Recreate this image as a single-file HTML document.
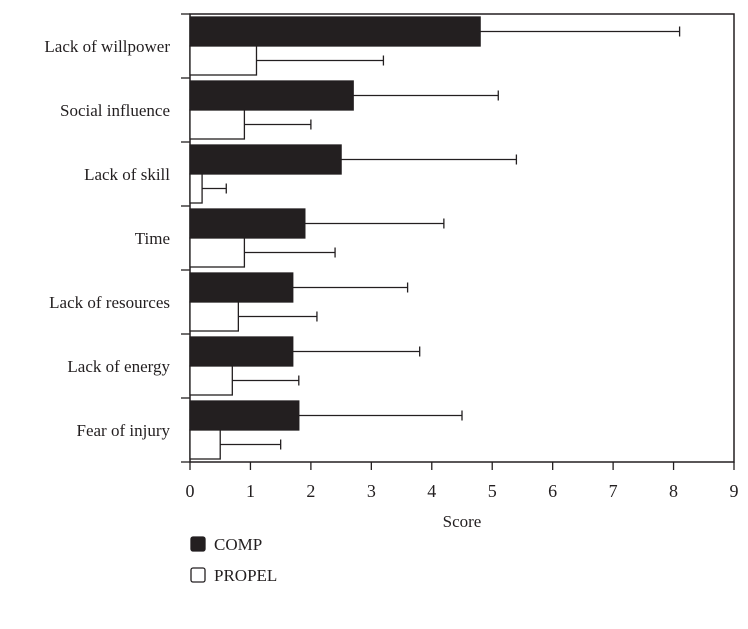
<!DOCTYPE html>
<html><head><meta charset="utf-8"><style>
body{margin:0;background:#fff;}
svg text{font-family:"Liberation Serif",serif;fill:#231f20;}
</style></head><body>
<svg width="748" height="624" id="chart">
</svg>
<script>
const categories=["Lack of willpower","Social influence","Lack of skill","Time","Lack of resources","Lack of energy","Fear of injury"];
const compValues=[4.8,2.7,2.5,1.9,1.7,1.7,1.8];
const compErrors=[8.1,5.1,5.4,4.2,3.6,3.8,4.5];
const propelValues=[1.1,0.9,0.2,0.9,0.8,0.7,0.5];
const propelErrors=[3.2,2.0,0.6,2.4,2.1,1.8,1.5];
const xTicks=[0,1,2,3,4,5,6,7,8,9];
const svg=document.getElementById('chart');
const NS='http://www.w3.org/2000/svg';
const L=190,R=734,T=14,B=462,XMAX=9;
const band=(B-T)/categories.length;
const x=v=>L+v/XMAX*(R-L);
function el(t,a,p){const e=document.createElementNS(NS,t);for(const k in a)e.setAttribute(k,a[k]);(p||svg).appendChild(e);return e;}
const frame=el('rect',{x:L,y:T,width:R-L,height:B-T,fill:'none',stroke:'#231f20','stroke-width':1.5});


for(let i=0;i<=categories.length;i++){const t=el('line',{x1:L-9,x2:L,y1:T+i*band,y2:T+i*band,stroke:'#231f20','stroke-width':1.3});

}
xTicks.forEach(v=>{const t=el('line',{x1:x(v),x2:x(v),y1:B,y2:B+8,stroke:'#231f20','stroke-width':1.3});


const lb=el('text',{x:x(v),y:B+35,'text-anchor':'middle','font-size':18});lb.textContent=v;

});
function bar(v,e,y0,h,fill,name){
const r=el('rect',{x:L,y:y0,width:x(v)-L,height:h,fill:fill,stroke:'#231f20','stroke-width':1.3});


const cy=y0+h/2;
const ln=el('line',{x1:x(v),x2:x(e),y1:cy,y2:cy,stroke:'#231f20','stroke-width':1.3});


const cap=el('line',{x1:x(e),x2:x(e),y1:cy-5,y2:cy+5,stroke:'#231f20','stroke-width':1.3});

}
categories.forEach((c,i)=>{const y0=T+i*band;
bar(compValues[i],compErrors[i],y0+3,29,'#231f20','comp-bar');
bar(propelValues[i],propelErrors[i],y0+32,29,'#fff','propel-bar');
const lb=el('text',{x:170,y:y0+38,'text-anchor':'end','font-size':17});lb.textContent=c;

});
const xt=el('text',{x:x(4.5),y:527,'text-anchor':'middle','font-size':17});xt.textContent='Score';


[['COMP','#231f20',537],['PROPEL','#fff',568]].forEach(([n,f,y])=>{
const s=el('rect',{x:191,y:y,width:14,height:14,rx:2,fill:f,stroke:'#231f20','stroke-width':1.3});


const t=el('text',{x:214,y:y+13,'font-size':17});t.textContent=n;

});
</script>
</body></html>
